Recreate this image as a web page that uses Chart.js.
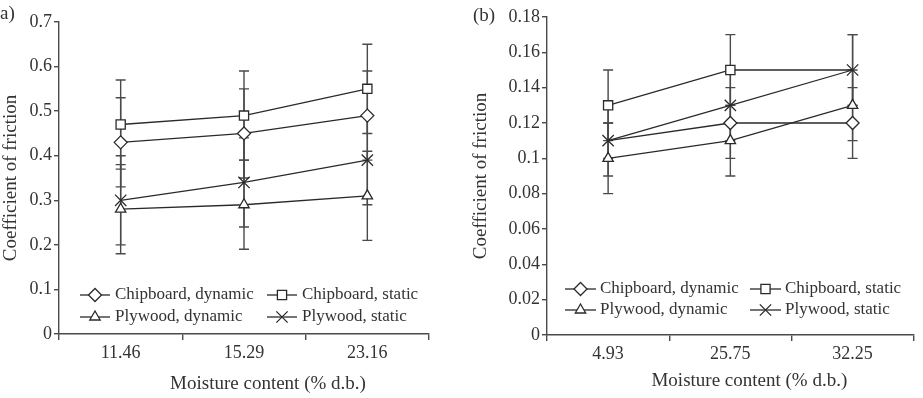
<!DOCTYPE html>
<html><head><meta charset="utf-8">
<script src="https://cdn.jsdelivr.net/npm/chart.js@4"></script>
<style>
body{margin:0;background:#fff;width:923px;height:398px;overflow:hidden;position:relative;font-family:'Liberation Serif',serif;color:#333}
#wa{position:absolute;left:0;top:0;width:460px;height:398px}
#wb{position:absolute;left:460px;top:0;width:463px;height:398px}
.pl{position:absolute;font-size:19px;line-height:1}
</style></head><body>
<div id="wa"><canvas id="ca" width="460" height="398"></canvas></div>
<div id="wb"><canvas id="cb" width="463" height="398"></canvas></div>
<div class="pl" style="left:0;top:3px">a)</div>
<div class="pl" style="left:473px;top:5px">(b)</div>
<script>
// ---- data ----
const seriesNames = ['Chipboard, dynamic', 'Chipboard, static', 'Plywood, dynamic', 'Plywood, static'];

const leftCategories = ['11.46', '15.29', '23.16'];
const leftChipDyn = [0.43, 0.45, 0.49];
const leftChipSta = [0.47, 0.49, 0.55];
const leftPlyDyn  = [0.28, 0.29, 0.31];
const leftPlySta  = [0.30, 0.34, 0.39];
const leftChipDynErr = [0.1, 0.1, 0.1];
const leftChipStaErr = [0.1, 0.1, 0.1];
const leftPlyDynErr  = [0.1, 0.1, 0.1];
const leftPlyStaErr  = [0.1, 0.1, 0.1];

const rightCategories = ['4.93', '25.75', '32.25'];
const rightChipDyn = [0.11, 0.12, 0.12];
const rightChipSta = [0.13, 0.15, 0.15];
const rightPlyDyn  = [0.10, 0.11, 0.13];
const rightPlySta  = [0.11, 0.13, 0.15];
const rightChipDynErr = [0.02, 0.02, 0.02];
const rightChipStaErr = [0.02, 0.02, 0.02];
const rightPlyDynErr  = [0.02, 0.02, 0.02];
const rightPlyStaErr  = [0.01, 0.02, 0.02];

const yTitle = 'Coefficient of friction';
const xTitle = 'Moisture content (% d.b.)';

// ---- styles ----
const FF = "'Liberation Serif', 'Times New Roman', serif";
const TXT = '#333';
const AX = '#4a4a4a';
const LINE = '#2a2a2a';
const STYLES = [
  {pointStyle: 'rectRot', radius: 6.5},
  {pointStyle: 'rect', radius: 6.5},
  {pointStyle: 'triangle', radius: 6},
  {pointStyle: 'crossRot', radius: 8}
];

// hidden: markers covered by a coincident "X" marker in the original
function makeDatasets(vals, errs, hidden) {
  return [3, 2, 1, 0].map(i => ({
    label: seriesNames[i], data: vals[i], errors: errs[i], legendIndex: i,
    pointStyle: STYLES[i].pointStyle, legendRadius: STYLES[i].radius,
    pointRadius: vals[i].map((v, j) => (hidden[i] && hidden[i].includes(j)) ? 0 : STYLES[i].radius),
    pointBackgroundColor: '#fff', pointBorderColor: LINE, pointBorderWidth: 1.3,
    borderColor: LINE, borderWidth: 1.3, tension: 0, fill: false
  }));
}

const errorBars = {
  id: 'errorBars',
  beforeDatasetsDraw(chart) {
    const ctx = chart.ctx, ys = chart.scales.y;
    ctx.save();
    ctx.strokeStyle = AX; ctx.lineWidth = 1.4;
    chart.data.datasets.forEach((ds, di) => {
      const meta = chart.getDatasetMeta(di);
      meta.data.forEach((pt, i) => {
        const v = ds.data[i], e = ds.errors[i];
        const x = pt.x, yt = ys.getPixelForValue(v + e), yb = ys.getPixelForValue(v - e);
        ctx.beginPath();
        ctx.moveTo(x, yt); ctx.lineTo(x, yb);
        ctx.moveTo(x - 5, yt); ctx.lineTo(x + 5, yt);
        ctx.moveTo(x - 5, yb); ctx.lineTo(x + 5, yb);
        ctx.stroke();
      });
    });
    ctx.restore();
  }
};

const insideLegend = {
  id: 'insideLegend',
  afterDraw(chart, args, opts) {
    const ctx = chart.ctx, ca = chart.chartArea;
    ctx.save();
    chart.data.datasets.forEach(ds => {
      const k = ds.legendIndex, col = k % 2, row = Math.floor(k / 2);
      const x0 = ca.left + opts.cols[col], x1 = x0 + opts.lineLen, yy = ca.bottom - opts.rows[row];
      ctx.strokeStyle = LINE; ctx.lineWidth = 1.3;
      ctx.beginPath(); ctx.moveTo(x0, yy); ctx.lineTo(x1, yy); ctx.stroke();
      ctx.fillStyle = '#fff';
      Chart.helpers.drawPoint(ctx, {pointStyle: ds.pointStyle, radius: ds.legendRadius, borderWidth: 1.3, rotation: 0}, (x0 + x1) / 2, yy);
      ctx.fillStyle = TXT;
      ctx.font = opts.fontSize + 'px ' + FF;
      ctx.textBaseline = 'middle'; ctx.textAlign = 'left';
      ctx.fillText(ds.label, x1 + opts.gap, yy);
    });
    // x-axis title (offset to the right as in the original)
    ctx.font = '19px ' + FF; ctx.fillStyle = TXT;
    ctx.textAlign = 'center'; ctx.textBaseline = 'middle';
    ctx.fillText(xTitle, (ca.left + ca.right) / 2 + opts.titleDx, opts.titleY);
    ctx.restore();
  }
};

function makeChart(id, cats, datasets, yMax, yStep, cfg) {
  return new Chart(document.getElementById(id), {
    type: 'line',
    data: {labels: cats, datasets},
    options: {
      responsive: false, animation: false,
      layout: {padding: cfg.padding},
      plugins: {legend: {display: false}, tooltip: {enabled: false}, insideLegend: cfg.legend},
      scales: {
        x: {
          type: 'category', offset: true,
          grid: {offset: true, drawOnChartArea: false, drawTicks: true, tickLength: 6, color: AX, lineWidth: 1.4},
          border: {color: AX, width: 1.4},
          ticks: {color: TXT, font: {family: FF, size: 18}, padding: 2, maxRotation: 0},
          title: {display: false},
          afterFit(s) { s.height = cfg.xH; }
        },
        y: {
          min: 0, max: yMax,
          grid: {drawOnChartArea: false, drawTicks: true, tickLength: 5, color: AX, lineWidth: 1.4},
          border: {color: AX, width: 1.4},
          ticks: {stepSize: yStep, autoSkip: false, color: TXT, font: {family: FF, size: 18}, padding: 2,
                  callback: v => String(+v.toFixed(2))},
          title: {display: true, text: yTitle, color: TXT, font: {family: FF, size: 19}, padding: {top: 0, bottom: 0}},
          afterFit(s) { s.width = cfg.yW; }
        }
      }
    },
    plugins: [errorBars, insideLegend]
  });
}

makeChart('ca', leftCategories,
  makeDatasets([leftChipDyn, leftChipSta, leftPlyDyn, leftPlySta], [leftChipDynErr, leftChipStaErr, leftPlyDynErr, leftPlyStaErr], []),
  0.7, 0.1,
  {padding: {top: 22, right: 31, left: 0, bottom: 0}, xH: 64, yW: 59,
   legend: {cols: [21, 208], rows: [39, 17], lineLen: 30, gap: 5, fontSize: 17, titleDx: 24, titleY: 384}});

makeChart('cb', rightCategories,
  makeDatasets([rightChipDyn, rightChipSta, rightPlyDyn, rightPlySta], [rightChipDynErr, rightChipStaErr, rightPlyDynErr, rightPlyStaErr], [[0], [2], null, null]),
  0.18, 0.02,
  {padding: {top: 17, right: 2, left: 10, bottom: 0}, xH: 63, yW: 77,
   legend: {cols: [18, 203], rows: [46, 25], lineLen: 31, gap: 4, fontSize: 17, titleDx: 19, titleY: 381}});
</script>
</body></html>
